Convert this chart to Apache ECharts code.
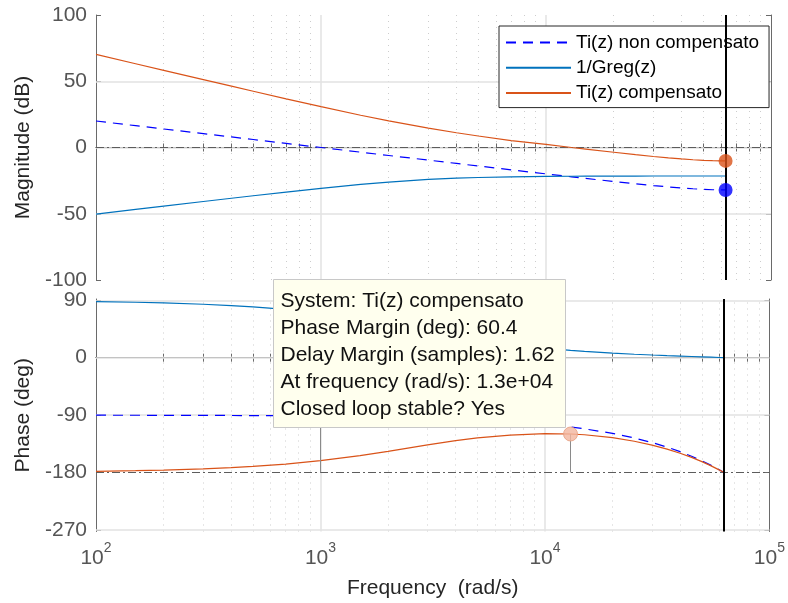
<!DOCTYPE html>
<html>
<head>
<meta charset="utf-8">
<title>Bode – Ti(z)</title>
<script src="https://cdn.jsdelivr.net/npm/echarts@6/dist/echarts.min.js"></script>
<style>
  html, body { margin: 0; padding: 0; background: #ffffff; }
  #chart { width: 788px; height: 603px; }
</style>
</head>
<body>
<div id="chart"></div>
<script>
// Frequency samples (rad/s) shared by every response curve
const freq = [100, 150, 200, 300, 400, 500, 700, 1000, 1500, 2000, 3000, 4000, 5000, 7000,
  10000, 13000, 15000, 20000, 25000, 30000, 35000, 40000, 45000, 50000, 55000, 60000, 62832];

// Magnitude (dB)
const magTiNC = [20.0, 16.48, 13.98, 10.46, 7.96, 6.02, 3.10, 0.0, -3.52, -6.02, -9.53, -12.03, -13.96, -16.86,
  -19.91, -22.13, -23.32, -25.66, -27.39, -28.71, -29.74, -30.54, -31.15, -31.59, -31.87, -32.02, -32.04];
const magInvGreg = [-50.26, -46.74, -44.25, -40.76, -38.30, -36.41, -33.63, -30.79, -27.87, -26.09, -24.13, -23.16, -22.63, -22.11,
  -21.80, -21.68, -21.63, -21.57, -21.54, -21.52, -21.51, -21.51, -21.51, -21.50, -21.50, -21.50, -21.50];
const magTiC = [70.26, 63.22, 58.23, 51.22, 46.26, 42.43, 36.73, 30.79, 24.35, 20.07, 14.60, 11.13, 8.67, 5.25,
  2.3, 0.0, -1.2, -3.6, -5.4, -6.8, -7.85, -8.65, -9.25, -9.7, -9.95, -10.05, -10.1];

// Phase (deg)
const phTiNC = [-90.14, -90.21, -90.29, -90.43, -90.57, -90.72, -91.00, -91.43, -92.15, -92.86, -94.30, -95.73, -97.16, -100.03,
  -104.32, -108.62, -111.49, -118.65, -125.81, -132.97, -140.13, -147.30, -154.46, -161.62, -168.78, -175.94, -180.0];
const phInvGreg = [87.91, 86.87, 85.83, 83.75, 81.69, 79.66, 75.67, 69.94, 61.29, 53.85, 42.36, 34.32, 28.60, 21.18,
  15.02, 11.49, 9.87, 7.15, 5.42, 4.21, 3.27, 2.52, 1.88, 1.30, 0.78, 0.28, 0.0];
const phTiC = [-178.05, -177.08, -176.12, -174.18, -172.26, -170.38, -166.67, -161.37, -153.44, -146.71, -136.66, -130.05, -125.76, -121.2,
  -118.9, -119.6, -120.8, -125.3, -130.9, -136.9, -143.2, -149.7, -156.3, -162.9, -169.5, -176.2, -180.0];

// Axis ticks
const xMajorTicks = [100, 1000, 10000, 100000];
const xTickExponents = ['2', '3', '4', '5'];
const xMinorTicks = [200, 300, 400, 500, 600, 700, 800, 900,
  2000, 3000, 4000, 5000, 6000, 7000, 8000, 9000,
  20000, 30000, 40000, 50000, 60000, 70000, 80000, 90000];
const magTicks = [-100, -50, 0, 50, 100];
const phaseTicks = [-270, -180, -90, 0, 90];

// Stability margins
const nyquistFreq = 62832;
const gmMagTiC = -10.1;
const gmMagTiNC = -32.04;
const pmFreq = 13000;
const pmValue = 60.4;
const pmPhase = -180 + pmValue;
const ncCrossFreq = 1000;
const ncCrossPhase = -91.43;

const legendNames = ['Ti(z) non compensato', '1/Greg(z)', 'Ti(z) compensato'];
const tipLines = [
  'System: Ti(z) compensato',
  'Phase Margin (deg): 60.4',
  'Delay Margin (samples): 1.62',
  'At frequency (rad/s): 1.3e+04',
  'Closed loop stable? Yes'
];

const FONT = '"Liberation Sans", Arial, Helvetica, sans-serif';
const C_NC = '#0000ff';
const C_INV = '#0072bd';
const C_C = '#d95319';
const AXIS_C = '#6a6a6a';
const TICK_TXT = '#555555';
const GRID_MAJOR = '#e2e2e2';
const GRID_MINOR = '#cdcdcd';
const REF_LINE = '#5c5c5c';

const pairs = (ys) => freq.map((f, i) => [f, ys[i]]);
const allXTicks = xMajorTicks.concat(xMinorTicks);

function xAxisFor(gridIndex, position, withLabels) {
  return {
    type: 'log', logBase: 10, gridIndex, position,
    min: 100, max: 100000,
    axisLine: { show: true, lineStyle: { color: AXIS_C, width: 1 } },
    axisTick: { show: true, inside: true, length: 4, customValues: allXTicks,
      lineStyle: { color: AXIS_C, width: 1 } },
    splitLine: { show: false },
    minorTick: { show: false },
    minorSplitLine: { show: false },
    axisLabel: withLabels ? {
      show: true,
      customValues: xMajorTicks,
      margin: 10,
      formatter: (v) => {
        const k = xMajorTicks.findIndex(t => Math.abs(t - v) / t < 1e-6);
        return '{b|10}{s|' + (k >= 0 ? xTickExponents[k] : '') + '}';
      },
      rich: {
        b: { fontSize: 21, fontFamily: FONT, color: TICK_TXT, padding: [6, 0, 0, 0] },
        s: { fontSize: 14, fontFamily: FONT, color: TICK_TXT, verticalAlign: 'top' }
      }
    } : { show: false },
    name: withLabels ? 'Frequency  (rad/s)' : '',
    nameLocation: 'middle',
    nameGap: 46,
    nameTextStyle: { fontSize: 21, fontFamily: FONT, color: '#262626' }
  };
}

function yAxisFor(gridIndex, position, min, max, ticks, name) {
  const left = position === 'left';
  return {
    type: 'value', gridIndex, position, min, max,
    axisLine: { show: true, onZero: false, lineStyle: { color: AXIS_C, width: 1 } },
    axisTick: { show: true, inside: true, length: 5, customValues: ticks,
      lineStyle: { color: AXIS_C, width: 1 } },
    splitLine: { show: false },
    axisLabel: left ? {
      show: true, customValues: ticks, margin: 9,
      fontSize: 21, fontFamily: FONT, color: TICK_TXT
    } : { show: false },
    name: left ? name : '',
    nameLocation: 'middle',
    nameGap: 60,
    nameTextStyle: { fontSize: 21, fontFamily: FONT, color: '#262626' }
  };
}

// Grid lines and the reference (0 dB / -180 deg) line for one panel
function panelLines(hLines, refY) {
  const d = [];
  xMinorTicks.forEach(v => d.push({ xAxis: v, lineStyle: { color: GRID_MINOR, width: 1, type: [1, 5] } }));
  [1000, 10000].forEach(v => d.push({ xAxis: v, lineStyle: { color: GRID_MAJOR, width: 1.5, type: 'solid' } }));
  hLines.forEach(v => d.push({ yAxis: v, lineStyle: { color: GRID_MAJOR, width: 1.5, type: 'solid' } }));
  d.push({ yAxis: refY, lineStyle: { color: REF_LINE, width: 1, type: [8, 3, 2, 3] } });
  return d;
}

function helper(xi, yi, z, data) {
  return {
    type: 'line', xAxisIndex: xi, yAxisIndex: yi, data: [], z, silent: true,
    markLine: { silent: true, z, symbol: ['none', 'none'], animation: false,
      label: { show: false }, emphasis: { disabled: true }, data }
  };
}

function curve(name, xi, yi, ys, color, dashed) {
  return {
    name, type: 'line', xAxisIndex: xi, yAxisIndex: yi, data: pairs(ys),
    showSymbol: false, symbol: 'none', z: 3, silent: true,
    lineStyle: { color, width: 1.2, type: dashed ? [10, 7] : 'solid' },
    itemStyle: { color }
  };
}

const nyq = { xAxis: nyquistFreq, lineStyle: { color: '#000000', width: 2, type: 'solid' } };
const stemStyle = { color: '#8a8a8a', width: 1, type: 'solid' };

const option = {
  animation: false,
  backgroundColor: '#ffffff',
  textStyle: { fontFamily: FONT },
  grid: [
    { left: 96, width: 675, top: 15, height: 265 },
    { left: 96, width: 675, top: 299, height: 232.5 }
  ],
  xAxis: [
    xAxisFor(0, 'bottom', false),
    xAxisFor(0, 'top', false),
    xAxisFor(1, 'bottom', true),
    xAxisFor(1, 'top', false)
  ],
  yAxis: [
    yAxisFor(0, 'left', -100, 100, magTicks, 'Magnitude (dB)'),
    yAxisFor(0, 'right', -100, 100, magTicks, ''),
    yAxisFor(1, 'left', -272.4, 92, phaseTicks, 'Phase (deg)'),
    yAxisFor(1, 'right', -272.4, 92, phaseTicks, '')
  ],
  legend: {
    data: legendNames,
    orient: 'vertical',
    left: 499, top: 26,
    itemWidth: 65, itemHeight: 20, itemGap: 6.3,
    padding: [7, 10, 5, 6],
    backgroundColor: '#ffffff',
    borderColor: '#262626', borderWidth: 1, borderRadius: 0,
    selectedMode: false,
    itemStyle: { opacity: 0 },
    textStyle: { fontSize: 19, fontFamily: FONT, color: '#000000' }
  },
  series: [
    helper(0, 0, 1, panelLines([-50, 0, 50], 0)),
    helper(2, 2, 1, panelLines([-270, -90, 0, 90], -180)),

    curve(legendNames[0], 0, 0, magTiNC, C_NC, true),
    curve(legendNames[1], 0, 0, magInvGreg, C_INV, false),
    curve(legendNames[2], 0, 0, magTiC, C_C, false),
    curve(legendNames[0], 2, 2, phTiNC, C_NC, true),
    curve(legendNames[1], 2, 2, phInvGreg, C_INV, false),
    curve(legendNames[2], 2, 2, phTiC, C_C, false),

    helper(0, 0, 4, [nyq]),
    helper(2, 2, 4, [
      nyq,
      [{ coord: [ncCrossFreq, -180], lineStyle: stemStyle }, { coord: [ncCrossFreq, ncCrossPhase] }],
      [{ coord: [pmFreq, -180], lineStyle: stemStyle }, { coord: [pmFreq, pmPhase] }]
    ]),

    {
      type: 'scatter', xAxisIndex: 0, yAxisIndex: 0, z: 5, silent: true,
      symbol: 'circle', symbolSize: 14,
      data: [
        { value: [nyquistFreq, gmMagTiC], itemStyle: { color: C_C } },
        { value: [nyquistFreq, gmMagTiNC], itemStyle: { color: C_NC } }
      ]
    },
    {
      type: 'scatter', xAxisIndex: 2, yAxisIndex: 2, z: 5, silent: true,
      symbol: 'circle', symbolSize: 14,
      data: [{ value: [pmFreq, pmPhase] }],
      itemStyle: { color: '#f2b59d', borderColor: '#e59d80', borderWidth: 1 }
    }
  ],
  graphic: [
    {
      type: 'rect', z: 100,
      shape: { x: 273.5, y: 279.5, width: 292, height: 148 },
      style: { fill: '#ffffee', stroke: '#c8c8c8', lineWidth: 1 }
    },
    {
      type: 'text', z: 101, x: 280.5, y: 288,
      style: { text: tipLines.join('\n'), fontSize: 21, fontFamily: FONT,
        fill: '#111111', lineHeight: 27 }
    }
  ]
};

const chart = echarts.init(document.getElementById('chart'), null, { renderer: 'canvas' });
chart.setOption(option);
</script>
</body>
</html>
